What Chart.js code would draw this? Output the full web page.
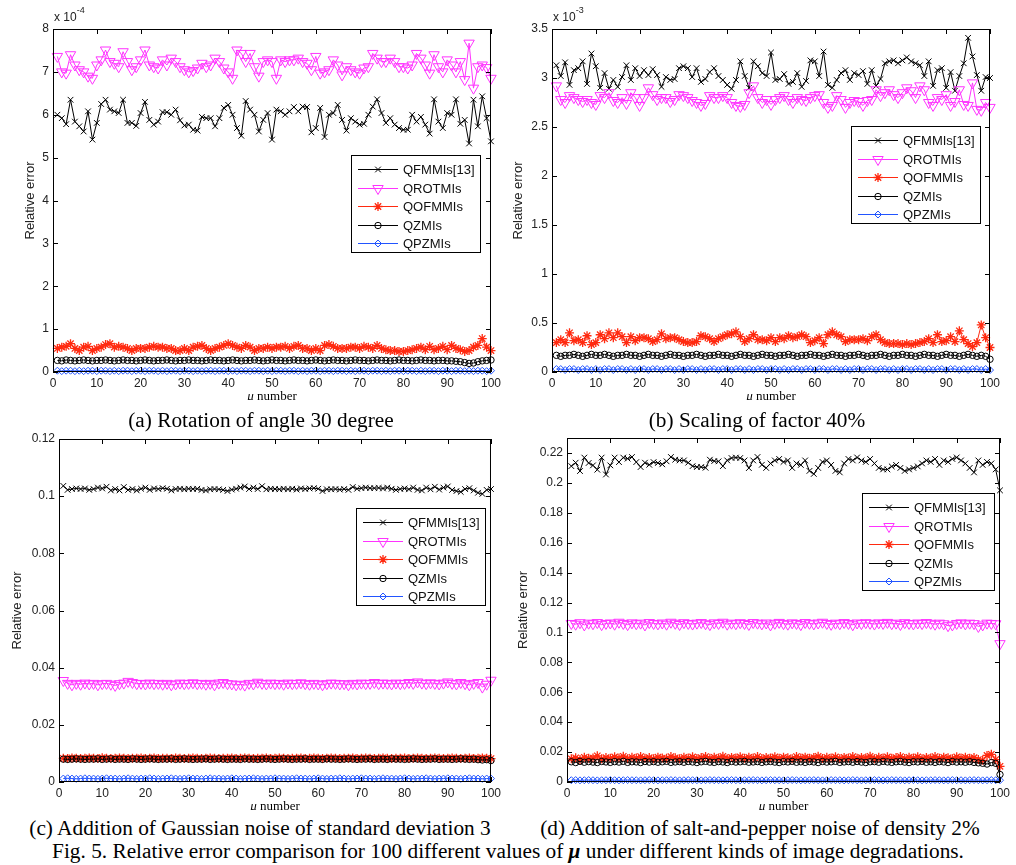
<!DOCTYPE html>
<html>
<head>
<meta charset="utf-8">
<script src="https://cdn.jsdelivr.net/npm/chart.js@4.4.0/dist/chart.umd.min.js"></script>
<style>
body{margin:0;background:#fff;width:1016px;height:865px;position:relative;overflow:hidden}
canvas{position:absolute}
.cap{position:absolute;font-family:"Liberation Serif","Times New Roman",serif;font-size:21.3px;line-height:22px;color:#000;white-space:nowrap;text-align:center}
</style>
</head>
<body>
<canvas id="cA" width="505" height="400" style="left:0;top:0"></canvas>
<canvas id="cB" width="511" height="400" style="left:505px;top:0"></canvas>
<canvas id="cC" width="505" height="385" style="left:0;top:425px"></canvas>
<canvas id="cD" width="511" height="385" style="left:505px;top:425px"></canvas>
<div class="cap" style="left:0;width:522px;top:409px">(a) Rotation of angle 30 degree</div>
<div class="cap" style="left:505px;width:504px;top:409px">(b) Scaling of factor 40%</div>
<div class="cap" style="left:0;width:520px;top:817px">(c) Addition of Gaussian noise of standard deviation 3</div>
<div class="cap" style="left:505px;width:510px;top:817px">(d) Addition of salt-and-pepper noise of density 2%</div>
<div class="cap" style="left:0;width:1016px;top:840px">Fig. 5. Relative error comparison for 100 different values of <b><i>μ</i></b> under different kinds of image degradations.</div>
<script>
//Data
const seriesNames = ['QFMMIs[13]', 'QROTMIs', 'QOFMMIs', 'QZMIs', 'QPZMIs'];
const muNumber = [];
for (let i = 1; i <= 100; i++) muNumber.push(i);

//(a) rotation, values in units of 1e-4
const qfmmiA = [6.00,5.92,5.78,6.35,5.84,5.73,5.61,6.08,5.42,5.81,
6.25,6.35,6.12,6.08,6.04,6.35,5.81,5.81,5.74,6.04,
6.30,5.88,5.77,5.84,6.06,6.06,6.00,6.12,5.87,5.75,
5.77,5.65,5.63,5.95,5.92,5.92,5.73,5.92,6.16,6.23,
6.00,5.69,5.51,6.32,6.12,6.00,5.61,5.88,6.04,5.42,
6.12,6.08,6.00,6.08,6.18,6.08,6.19,6.18,5.59,5.69,
6.16,5.48,6.00,6.04,6.23,5.88,5.63,5.92,5.84,5.77,
5.79,6.00,6.19,6.36,6.04,5.81,5.92,5.77,5.69,5.65,
5.65,6.00,5.84,5.95,5.77,5.56,6.36,5.84,5.69,6.04,
6.00,6.36,5.79,5.88,5.33,6.35,5.73,6.43,5.92,5.38];
const qrotA = [7.36,7.00,6.97,7.40,7.16,7.05,7.00,6.90,6.85,7.16,
7.28,7.51,7.24,7.20,7.12,7.47,7.24,7.05,7.12,7.28,
7.51,7.16,7.12,7.09,7.28,7.16,7.32,7.24,7.12,7.05,
7.00,7.03,7.09,7.20,7.12,7.16,7.32,7.24,7.09,7.00,
6.85,7.51,7.43,7.24,7.43,7.12,6.90,7.24,7.28,7.24,
6.85,7.28,7.24,7.28,7.28,7.32,7.24,7.20,7.05,7.36,
6.97,7.00,7.05,7.28,7.16,6.93,7.12,7.05,7.00,6.97,
7.09,7.12,7.43,7.32,7.24,7.24,7.32,7.24,7.12,7.12,
7.09,7.16,7.43,7.32,7.16,6.97,7.40,7.12,7.00,7.28,
7.16,7.00,7.24,6.82,7.67,6.62,7.12,7.16,7.10,6.85];
const qofA = [0.55,0.58,0.60,0.66,0.55,0.50,0.58,0.60,0.50,0.55,
0.58,0.64,0.66,0.58,0.60,0.58,0.55,0.50,0.55,0.55,
0.55,0.58,0.60,0.58,0.58,0.55,0.55,0.50,0.50,0.55,
0.50,0.58,0.60,0.62,0.55,0.50,0.55,0.58,0.62,0.66,
0.62,0.58,0.55,0.62,0.58,0.50,0.55,0.55,0.58,0.55,
0.58,0.58,0.60,0.55,0.60,0.62,0.55,0.55,0.50,0.55,
0.50,0.62,0.64,0.60,0.55,0.55,0.55,0.58,0.58,0.55,
0.60,0.58,0.55,0.62,0.55,0.52,0.50,0.50,0.48,0.48,
0.50,0.52,0.55,0.58,0.52,0.60,0.52,0.55,0.60,0.52,
0.62,0.55,0.52,0.48,0.50,0.58,0.62,0.78,0.58,0.50];
const qzA = [0.27,0.26,0.28,0.27,0.26,0.27,0.28,0.27,0.26,0.27,
0.27,0.28,0.27,0.26,0.27,0.28,0.27,0.27,0.26,0.27,
0.28,0.27,0.26,0.27,0.27,0.28,0.27,0.26,0.27,0.27,
0.28,0.27,0.27,0.26,0.27,0.28,0.27,0.27,0.26,0.27,
0.28,0.27,0.26,0.27,0.27,0.28,0.27,0.26,0.27,0.28,
0.27,0.27,0.26,0.27,0.28,0.27,0.27,0.26,0.27,0.28,
0.27,0.26,0.27,0.28,0.27,0.27,0.26,0.27,0.28,0.27,
0.27,0.26,0.27,0.28,0.27,0.27,0.26,0.27,0.28,0.27,
0.27,0.26,0.27,0.28,0.27,0.27,0.26,0.27,0.27,0.26,
0.26,0.25,0.24,0.22,0.20,0.21,0.24,0.26,0.27,0.28];
const qpzA = [0.03,0.02,0.03,0.03,0.02,0.03,0.02,0.03,0.03,0.02,
0.03,0.03,0.02,0.03,0.02,0.03,0.03,0.02,0.03,0.03,
0.02,0.03,0.03,0.02,0.03,0.02,0.03,0.03,0.02,0.03,
0.03,0.02,0.03,0.02,0.03,0.03,0.02,0.03,0.03,0.02,
0.03,0.02,0.03,0.03,0.02,0.03,0.03,0.02,0.03,0.02,
0.03,0.03,0.02,0.03,0.03,0.02,0.03,0.02,0.03,0.03,
0.02,0.03,0.03,0.02,0.03,0.03,0.02,0.03,0.02,0.03,
0.03,0.02,0.03,0.03,0.02,0.03,0.02,0.03,0.03,0.02,
0.03,0.03,0.02,0.03,0.02,0.03,0.03,0.02,0.03,0.03,
0.02,0.03,0.03,0.02,0.03,0.02,0.03,0.03,0.02,0.03];

//(b) scaling, values in units of 1e-3
const qfmmiB = [3.13,3.02,3.16,2.93,3.08,3.10,3.17,2.94,3.25,3.12,
2.90,3.05,2.89,2.98,2.91,3.01,3.13,2.98,3.10,3.02,
3.08,3.03,3.09,3.03,2.91,3.01,2.98,2.99,3.10,3.12,
3.10,3.01,3.10,2.96,2.99,3.06,3.10,3.02,2.98,2.93,
2.89,2.98,3.17,3.02,2.90,3.17,3.12,3.05,3.02,3.26,
2.98,2.99,3.04,2.94,2.96,3.05,2.91,2.97,3.18,3.17,
3.02,3.27,2.93,2.90,2.98,3.05,3.08,2.98,3.05,3.03,
3.07,2.94,3.08,2.92,2.99,3.15,3.17,3.18,3.15,3.18,
3.21,3.17,3.15,3.13,3.02,3.17,2.92,3.08,3.10,2.90,
3.06,2.87,3.02,3.15,3.41,3.22,3.03,2.87,3.01,3.00];
const qrotB = [2.92,2.78,2.75,2.82,2.80,2.78,2.76,2.78,2.75,2.73,
2.82,2.80,2.85,2.77,2.75,2.80,2.74,2.85,2.80,2.72,
2.80,2.90,2.83,2.78,2.80,2.80,2.76,2.78,2.83,2.82,
2.80,2.77,2.75,2.72,2.74,2.82,2.80,2.80,2.82,2.80,
2.75,2.72,2.71,2.73,2.85,2.92,2.80,2.75,2.78,2.73,
2.78,2.80,2.82,2.78,2.75,2.80,2.78,2.77,2.80,2.82,
2.83,2.75,2.70,2.72,2.82,2.78,2.70,2.75,2.77,2.76,
2.72,2.77,2.78,2.88,2.82,2.85,2.88,2.83,2.80,2.85,
2.90,2.87,2.80,2.92,2.88,2.75,2.72,2.80,2.78,2.83,
2.72,2.76,2.88,2.73,2.72,2.95,2.68,2.67,2.75,2.70];
const qofB = [0.30,0.33,0.30,0.40,0.32,0.33,0.30,0.37,0.28,0.30,
0.38,0.34,0.40,0.35,0.40,0.36,0.30,0.36,0.32,0.35,
0.35,0.34,0.31,0.33,0.39,0.34,0.35,0.35,0.33,0.31,
0.30,0.30,0.31,0.37,0.36,0.34,0.31,0.34,0.36,0.38,
0.39,0.41,0.36,0.31,0.34,0.38,0.33,0.33,0.32,0.35,
0.31,0.35,0.34,0.37,0.35,0.36,0.38,0.36,0.30,0.32,
0.35,0.29,0.38,0.41,0.38,0.36,0.31,0.33,0.33,0.33,
0.34,0.32,0.36,0.38,0.33,0.30,0.29,0.29,0.29,0.28,
0.29,0.28,0.29,0.30,0.31,0.34,0.30,0.38,0.31,0.32,
0.36,0.31,0.42,0.33,0.29,0.26,0.30,0.48,0.35,0.25];
const qzB = [0.17,0.16,0.17,0.17,0.18,0.17,0.16,0.17,0.18,0.17,
0.17,0.18,0.17,0.16,0.17,0.17,0.18,0.17,0.17,0.16,
0.17,0.18,0.17,0.17,0.16,0.17,0.18,0.17,0.17,0.16,
0.17,0.17,0.18,0.17,0.16,0.17,0.17,0.18,0.17,0.17,
0.16,0.17,0.18,0.17,0.17,0.16,0.17,0.18,0.17,0.17,
0.16,0.17,0.17,0.18,0.17,0.16,0.17,0.17,0.18,0.17,
0.17,0.16,0.17,0.18,0.17,0.17,0.16,0.17,0.17,0.18,
0.17,0.16,0.17,0.17,0.18,0.17,0.16,0.17,0.17,0.18,
0.17,0.17,0.16,0.17,0.18,0.17,0.17,0.16,0.17,0.18,
0.17,0.17,0.16,0.17,0.18,0.17,0.16,0.17,0.16,0.13];
const qpzB = [0.03,0.03,0.02,0.03,0.03,0.02,0.03,0.03,0.02,0.03,
0.02,0.03,0.03,0.02,0.03,0.03,0.02,0.03,0.02,0.03,
0.03,0.02,0.03,0.03,0.02,0.03,0.03,0.02,0.03,0.02,
0.03,0.03,0.02,0.03,0.02,0.03,0.03,0.02,0.03,0.03,
0.02,0.03,0.03,0.02,0.03,0.02,0.03,0.03,0.02,0.03,
0.03,0.02,0.03,0.02,0.03,0.03,0.02,0.03,0.03,0.02,
0.03,0.03,0.02,0.03,0.03,0.02,0.03,0.02,0.03,0.03,
0.02,0.03,0.03,0.02,0.03,0.03,0.02,0.03,0.02,0.03,
0.03,0.02,0.03,0.03,0.02,0.03,0.02,0.03,0.03,0.02,
0.03,0.03,0.02,0.03,0.02,0.03,0.03,0.02,0.03,0.02];

//(c) gaussian noise
const qfmmiC = [0.1036,0.1022,0.1025,0.1027,0.1025,0.1027,0.1022,0.1025,0.1030,0.1027,
0.1033,0.1020,0.1025,0.1020,0.1032,0.1022,0.1025,0.1020,0.1026,0.1030,
0.1022,0.1027,0.1025,0.1028,0.1026,0.1020,0.1025,0.1026,0.1024,0.1026,
0.1025,0.1026,0.1022,0.1020,0.1024,0.1025,0.1024,0.1022,0.1018,0.1023,
0.1026,0.1030,0.1034,0.1025,0.1030,0.1025,0.1035,0.1024,0.1026,0.1025,
0.1024,0.1026,0.1024,0.1026,0.1023,0.1027,0.1025,0.1027,0.1028,0.1026,
0.1018,0.1024,0.1024,0.1025,0.1023,0.1025,0.1022,0.1032,0.1026,0.1028,
0.1030,0.1028,0.1028,0.1029,0.1027,0.1030,0.1026,0.1022,0.1025,0.1027,
0.1024,0.1030,0.1022,0.1020,0.1030,0.1024,0.1033,0.1023,0.1030,0.1034,
0.1022,0.1018,0.1015,0.1025,0.1028,0.1020,0.1012,0.1008,0.1022,0.1025];
const qrotC = [0.0355,0.0345,0.0340,0.0345,0.0342,0.0346,0.0343,0.0345,0.0340,0.0344,
0.0345,0.0342,0.0338,0.0344,0.0346,0.0352,0.0348,0.0344,0.0345,0.0343,
0.0346,0.0344,0.0345,0.0342,0.0345,0.0340,0.0343,0.0346,0.0344,0.0345,
0.0347,0.0344,0.0345,0.0342,0.0345,0.0340,0.0346,0.0348,0.0344,0.0343,
0.0340,0.0342,0.0339,0.0345,0.0343,0.0349,0.0345,0.0343,0.0346,0.0344,
0.0345,0.0342,0.0346,0.0344,0.0345,0.0347,0.0344,0.0342,0.0345,0.0343,
0.0340,0.0344,0.0346,0.0345,0.0343,0.0344,0.0340,0.0345,0.0343,0.0346,
0.0344,0.0345,0.0348,0.0344,0.0346,0.0345,0.0343,0.0346,0.0344,0.0345,
0.0348,0.0345,0.0350,0.0346,0.0344,0.0347,0.0345,0.0343,0.0346,0.0350,
0.0345,0.0343,0.0348,0.0344,0.0340,0.0345,0.0348,0.0332,0.0342,0.0356];
const qofC = [0.0083,0.0082,0.0084,0.0083,0.0082,0.0083,0.0084,0.0083,0.0082,0.0085,
0.0083,0.0082,0.0083,0.0084,0.0083,0.0082,0.0083,0.0083,0.0084,0.0082,
0.0083,0.0084,0.0082,0.0083,0.0083,0.0082,0.0084,0.0083,0.0082,0.0083,
0.0084,0.0083,0.0082,0.0083,0.0084,0.0083,0.0082,0.0083,0.0083,0.0084,
0.0082,0.0083,0.0084,0.0083,0.0082,0.0083,0.0083,0.0084,0.0082,0.0083,
0.0084,0.0083,0.0082,0.0083,0.0083,0.0084,0.0082,0.0083,0.0084,0.0083,
0.0082,0.0083,0.0084,0.0083,0.0082,0.0083,0.0083,0.0084,0.0082,0.0083,
0.0084,0.0083,0.0082,0.0083,0.0084,0.0083,0.0082,0.0083,0.0083,0.0084,
0.0082,0.0083,0.0084,0.0083,0.0082,0.0083,0.0084,0.0083,0.0082,0.0083,
0.0084,0.0083,0.0082,0.0083,0.0084,0.0082,0.0083,0.0084,0.0083,0.0082];
const qzC = [0.0080,0.0079,0.0080,0.0081,0.0080,0.0079,0.0080,0.0080,0.0081,0.0079,
0.0080,0.0081,0.0079,0.0080,0.0080,0.0079,0.0081,0.0080,0.0079,0.0080,
0.0081,0.0080,0.0079,0.0080,0.0080,0.0081,0.0079,0.0080,0.0081,0.0080,
0.0079,0.0080,0.0080,0.0081,0.0079,0.0080,0.0081,0.0080,0.0079,0.0080,
0.0080,0.0079,0.0081,0.0080,0.0080,0.0079,0.0080,0.0081,0.0080,0.0079,
0.0080,0.0081,0.0080,0.0079,0.0080,0.0080,0.0081,0.0079,0.0080,0.0080,
0.0079,0.0081,0.0080,0.0080,0.0079,0.0080,0.0081,0.0080,0.0079,0.0080,
0.0080,0.0081,0.0079,0.0080,0.0080,0.0079,0.0081,0.0080,0.0080,0.0079,
0.0080,0.0081,0.0080,0.0079,0.0080,0.0080,0.0081,0.0079,0.0080,0.0080,
0.0079,0.0080,0.0081,0.0080,0.0079,0.0080,0.0078,0.0077,0.0078,0.0075];
const qpzC = [0.0012,0.0013,0.0012,0.0011,0.0012,0.0013,0.0012,0.0012,0.0011,0.0012,
0.0013,0.0012,0.0012,0.0011,0.0012,0.0013,0.0012,0.0011,0.0012,0.0012,
0.0013,0.0012,0.0011,0.0012,0.0012,0.0013,0.0012,0.0011,0.0012,0.0013,
0.0012,0.0012,0.0011,0.0012,0.0013,0.0012,0.0012,0.0011,0.0012,0.0013,
0.0012,0.0011,0.0012,0.0012,0.0013,0.0012,0.0011,0.0012,0.0012,0.0013,
0.0012,0.0012,0.0011,0.0012,0.0013,0.0012,0.0012,0.0011,0.0012,0.0013,
0.0012,0.0011,0.0012,0.0012,0.0013,0.0012,0.0011,0.0012,0.0012,0.0013,
0.0012,0.0012,0.0011,0.0012,0.0013,0.0012,0.0012,0.0011,0.0012,0.0013,
0.0012,0.0011,0.0012,0.0012,0.0013,0.0012,0.0011,0.0012,0.0012,0.0013,
0.0012,0.0012,0.0011,0.0012,0.0013,0.0012,0.0012,0.0011,0.0012,0.0012];

//(d) salt-and-pepper noise
const qfmmiD = [0.2112,0.2135,0.2079,0.2169,0.2133,0.2117,0.2088,0.2169,0.2056,0.2117,
0.2169,0.2139,0.2169,0.2162,0.2173,0.2139,0.2106,0.2135,0.2121,0.2139,
0.2133,0.2124,0.2144,0.2173,0.2155,0.2150,0.2150,0.2135,0.2112,0.2106,
0.2106,0.2101,0.2155,0.2146,0.2144,0.2112,0.2150,0.2166,0.2169,0.2166,
0.2150,0.2099,0.2150,0.2173,0.2121,0.2100,0.2130,0.2150,0.2160,0.2140,
0.2150,0.2100,0.2130,0.2120,0.2150,0.2080,0.2060,0.2100,0.2140,0.2150,
0.2120,0.2080,0.2070,0.2130,0.2160,0.2150,0.2170,0.2150,0.2140,0.2160,
0.2130,0.2100,0.2090,0.2090,0.2110,0.2120,0.2100,0.2080,0.2090,0.2100,
0.2110,0.2130,0.2150,0.2140,0.2160,0.2120,0.2150,0.2140,0.2160,0.2170,
0.2150,0.2130,0.2100,0.2070,0.2150,0.2120,0.2140,0.2130,0.2090,0.1950];
const qrotD = [0.1060,0.1055,0.1065,0.1050,0.1062,0.1058,0.1066,0.1052,0.1060,0.1063,
0.1055,0.1068,0.1060,0.1052,0.1064,0.1058,0.1062,0.1050,0.1066,0.1060,
0.1057,0.1063,0.1055,0.1068,0.1061,0.1053,0.1065,0.1060,0.1056,0.1062,
0.1066,0.1058,0.1052,0.1064,0.1060,0.1068,0.1055,0.1062,0.1058,0.1065,
0.1060,0.1053,0.1066,0.1062,0.1057,0.1063,0.1050,0.1061,0.1067,0.1059,
0.1055,0.1064,0.1060,0.1052,0.1066,0.1061,0.1057,0.1063,0.1068,0.1060,
0.1054,0.1062,0.1058,0.1066,0.1060,0.1051,0.1063,0.1059,0.1065,0.1061,
0.1056,0.1064,0.1060,0.1067,0.1058,0.1062,0.1053,0.1065,0.1060,0.1057,
0.1063,0.1059,0.1066,0.1061,0.1055,0.1062,0.1058,0.1045,0.1050,0.1060,
0.1064,0.1057,0.1062,0.1059,0.1040,0.1050,0.1062,0.1060,0.1058,0.0925];
const qofD = [0.0155,0.0162,0.0150,0.0165,0.0158,0.0160,0.0175,0.0155,0.0163,0.0158,
0.0168,0.0160,0.0172,0.0156,0.0165,0.0160,0.0170,0.0158,0.0163,0.0155,
0.0166,0.0160,0.0158,0.0170,0.0162,0.0156,0.0165,0.0160,0.0168,0.0157,
0.0163,0.0170,0.0158,0.0165,0.0160,0.0172,0.0156,0.0164,0.0160,0.0168,
0.0158,0.0165,0.0160,0.0170,0.0157,0.0163,0.0160,0.0168,0.0158,0.0165,
0.0162,0.0156,0.0170,0.0160,0.0166,0.0158,0.0163,0.0172,0.0157,0.0165,
0.0160,0.0168,0.0155,0.0164,0.0160,0.0170,0.0158,0.0163,0.0160,0.0172,
0.0156,0.0165,0.0160,0.0168,0.0158,0.0163,0.0170,0.0157,0.0165,0.0160,
0.0168,0.0156,0.0163,0.0160,0.0170,0.0158,0.0165,0.0162,0.0156,0.0168,
0.0160,0.0165,0.0158,0.0163,0.0150,0.0145,0.0178,0.0185,0.0150,0.0105];
const qzD = [0.0135,0.0130,0.0138,0.0132,0.0136,0.0133,0.0130,0.0137,0.0134,0.0131,
0.0136,0.0133,0.0138,0.0131,0.0135,0.0134,0.0130,0.0137,0.0133,0.0136,
0.0132,0.0135,0.0138,0.0131,0.0134,0.0136,0.0132,0.0137,0.0134,0.0130,
0.0135,0.0138,0.0133,0.0131,0.0136,0.0134,0.0130,0.0137,0.0133,0.0135,
0.0138,0.0132,0.0134,0.0136,0.0131,0.0135,0.0137,0.0133,0.0130,0.0136,
0.0134,0.0138,0.0132,0.0135,0.0131,0.0136,0.0134,0.0130,0.0137,0.0133,
0.0135,0.0138,0.0131,0.0134,0.0136,0.0132,0.0137,0.0133,0.0130,0.0135,
0.0136,0.0132,0.0138,0.0134,0.0131,0.0135,0.0137,0.0133,0.0130,0.0136,
0.0134,0.0138,0.0132,0.0135,0.0131,0.0136,0.0134,0.0130,0.0137,0.0133,
0.0135,0.0132,0.0136,0.0131,0.0128,0.0125,0.0120,0.0130,0.0125,0.0050];
const qpzD = [0.0012,0.0013,0.0011,0.0012,0.0013,0.0012,0.0011,0.0012,0.0012,0.0013,
0.0012,0.0011,0.0012,0.0013,0.0012,0.0012,0.0011,0.0012,0.0013,0.0012,
0.0011,0.0012,0.0012,0.0013,0.0012,0.0011,0.0012,0.0013,0.0012,0.0012,
0.0011,0.0012,0.0013,0.0012,0.0012,0.0011,0.0012,0.0013,0.0012,0.0011,
0.0012,0.0012,0.0013,0.0012,0.0011,0.0012,0.0013,0.0012,0.0012,0.0011,
0.0012,0.0013,0.0012,0.0011,0.0012,0.0012,0.0013,0.0012,0.0011,0.0012,
0.0013,0.0012,0.0012,0.0011,0.0012,0.0013,0.0012,0.0011,0.0012,0.0012,
0.0013,0.0012,0.0011,0.0012,0.0013,0.0012,0.0012,0.0011,0.0012,0.0013,
0.0012,0.0011,0.0012,0.0012,0.0013,0.0012,0.0011,0.0012,0.0013,0.0012,
0.0012,0.0011,0.0012,0.0013,0.0012,0.0011,0.0012,0.0013,0.0012,0.0012];

//Styles (MATLAB-ish markers)
const seriesStyles = [
    {color: '#000000', pointStyle: 'crossRot', radius: 4, rotation: 0, width: 1},
    {color: '#ff33ff', pointStyle: 'triangle', radius: 6, rotation: 180, width: 1},
    {color: '#ff2a10', pointStyle: 'star', radius: 4.5, rotation: 0, width: 1.3},
    {color: '#000000', pointStyle: 'circle', radius: 3.2, rotation: 0, width: 1},
    {color: '#2255ff', pointStyle: 'rectRot', radius: 3.5, rotation: 0, width: 1}
];

//Panels: page geometry of each axes box
const panels = [
    {id: 'cA', left: 0, top: 0, area: {l: 53, t: 29, r: 491, b: 372}, yMax: 8, yStep: 1, exp: '-4',
     series: [qfmmiA, qrotA, qofA, qzA, qpzA], legend: {x: 351, y: 155, w: 130, h: 98}, yTitleX: 30},
    {id: 'cB', left: 505, top: 0, area: {l: 552, t: 29, r: 990, b: 372}, yMax: 3.5, yStep: 0.5, exp: '-3',
     series: [qfmmiB, qrotB, qofB, qzB, qpzB], legend: {x: 851, y: 126, w: 130, h: 98}, yTitleX: 518},
    {id: 'cC', left: 0, top: 425, area: {l: 59, t: 439, r: 496, b: 782}, yMax: 0.12, yStep: 0.02, exp: null,
     series: [qfmmiC, qrotC, qofC, qzC, qpzC], legend: {x: 356, y: 508, w: 130, h: 98}, yTitleX: 17},
    {id: 'cD', left: 505, top: 425, area: {l: 567, t: 438, r: 1000, b: 782}, yMax: 0.23, yStep: 0.02, exp: null,
     series: [qfmmiD, qrotD, qofD, qzD, qpzD], legend: {x: 862, y: 493, w: 133, h: 98}, yTitleX: 523}
];

Chart.defaults.font.family = '"Liberation Sans", Arial, sans-serif';
Chart.defaults.font.size = 12;
Chart.defaults.color = '#222';

function line(ctx, x1, y1, x2, y2) {
    ctx.beginPath();
    ctx.moveTo(x1, y1);
    ctx.lineTo(x2, y2);
    ctx.stroke();
}

//axes box, inward ticks, labels and legend
const matlabDecor = {
    id: 'matlabDecor',
    afterDraw(chart) {
        const p = chart.options.plugins.matlabDecor;
        const ctx = chart.ctx;
        const a = chart.chartArea;
        const xs = chart.scales.x, ys = chart.scales.y;
        ctx.save();
        ctx.strokeStyle = '#000';
        ctx.lineWidth = 1;
        ctx.strokeRect(a.left + 0.5, a.top + 0.5, a.right - a.left - 1, a.bottom - a.top - 1);
        xs.ticks.forEach(t => {
            const px = Math.round(xs.getPixelForValue(t.value)) + 0.5;
            line(ctx, px, a.bottom, px, a.bottom - 5);
            line(ctx, px, a.top, px, a.top + 5);
        });
        ys.ticks.forEach(t => {
            const py = Math.round(ys.getPixelForValue(t.value)) + 0.5;
            line(ctx, a.left, py, a.left + 5, py);
            line(ctx, a.right, py, a.right - 5, py);
        });

        //exponent
        ctx.fillStyle = '#222';
        ctx.textBaseline = 'middle';
        if (p.exp) {
            ctx.font = '12px "Liberation Sans", Arial';
            ctx.textAlign = 'left';
            ctx.fillText('x 10', a.left + 1, a.top - 11);
            const w = ctx.measureText('x 10').width;
            ctx.font = '9px "Liberation Sans", Arial';
            ctx.fillText(p.exp, a.left + 1 + w, a.top - 18);
        }

        //y title
        ctx.save();
        ctx.font = '13px "Liberation Sans", Arial';
        ctx.translate(p.yTitleX, (a.top + a.bottom) / 2);
        ctx.rotate(-Math.PI / 2);
        ctx.textAlign = 'center';
        ctx.fillText('Relative error', 0, 0);
        ctx.restore();

        //x title
        ctx.fillStyle = '#000';
        ctx.font = 'italic 13px "Liberation Serif", serif';
        const wMu = ctx.measureText('μ').width;
        ctx.font = '13px "Liberation Serif", serif';
        const wNum = ctx.measureText(' number').width;
        let sx = (a.left + a.right) / 2 - (wMu + wNum) / 2;
        const ty = a.bottom + 25;
        ctx.textAlign = 'left';
        ctx.font = 'italic 13px "Liberation Serif", serif';
        ctx.fillText('μ', sx, ty);
        ctx.font = '13px "Liberation Serif", serif';
        ctx.fillText(' number', sx + wMu, ty);

        //legend
        const L = p.legend;
        ctx.fillStyle = '#fff';
        ctx.fillRect(L.x, L.y, L.w, L.h);
        ctx.strokeStyle = '#000';
        ctx.strokeRect(L.x + 0.5, L.y + 0.5, L.w - 1, L.h - 1);
        ctx.font = '13px "Liberation Sans", Arial';
        chart.data.datasets.forEach((ds, k) => {
            const ry = Math.round(L.y + 14 + k * 18.5) + 0.5;
            ctx.strokeStyle = ds.borderColor;
            ctx.lineWidth = 1;
            line(ctx, L.x + 7, ry, L.x + 47, ry);
            ctx.fillStyle = 'rgba(0,0,0,0)';
            ctx.lineWidth = ds.pointBorderWidth;
            Chart.helpers.drawPoint(ctx, {
                pointStyle: ds.pointStyle, rotation: ds.pointRotation,
                radius: ds.pointRadius, borderWidth: ds.pointBorderWidth
            }, L.x + 27, ry);
            ctx.fillStyle = '#111';
            ctx.fillText(ds.label, L.x + 52, ry + 1);
        });
        ctx.restore();
    }
};

function createPanel(pn) {
    const canvas = document.getElementById(pn.id);
    const W = canvas.width, H = canvas.height;
    const datasets = pn.series.map((arr, k) => {
        const st = seriesStyles[k];
        return {
            label: seriesNames[k],
            data: arr.map((v, i) => ({x: muNumber[i], y: v})),
            borderColor: st.color,
            backgroundColor: 'rgba(0,0,0,0)',
            borderWidth: 1,
            pointStyle: st.pointStyle,
            pointRadius: st.radius,
            pointRotation: st.rotation,
            pointBorderWidth: st.width,
            pointBorderColor: st.color,
            pointBackgroundColor: 'rgba(0,0,0,0)',
            tension: 0,
            clip: false,
            order: 5 - k
        };
    });
    const step = pn.yStep;
    return new Chart(canvas.getContext('2d'), {
        type: 'line',
        data: {datasets: datasets},
        options: {
            responsive: false,
            animation: false,
            events: [],
            layout: {
                autoPadding: false,
                padding: {left: 0, top: pn.area.t - pn.top, right: pn.left + W - pn.area.r, bottom: 0}
            },
            scales: {
                x: {
                    type: 'linear', min: 0, max: 100,
                    grid: {display: false, drawTicks: false},
                    border: {display: false},
                    ticks: {stepSize: 10, padding: 4, maxRotation: 0, autoSkip: false},
                    afterFit: s => { s.height = pn.top + H - pn.area.b; }
                },
                y: {
                    type: 'linear', min: 0, max: pn.yMax,
                    grid: {display: false, drawTicks: false},
                    border: {display: false},
                    ticks: {
                        stepSize: step, padding: 4, autoSkip: false,
                        callback: v => String(+v.toFixed(4))
                    },
                    afterBuildTicks: s => {
                        s.ticks = s.ticks.filter(t => Math.abs(t.value / step - Math.round(t.value / step)) < 1e-6);
                    },
                    afterFit: s => { s.width = pn.area.l - pn.left; }
                }
            },
            plugins: {
                legend: {display: false},
                tooltip: {enabled: false},
                matlabDecor: {
                    exp: pn.exp,
                    yTitleX: pn.yTitleX - pn.left,
                    legend: {x: pn.legend.x - pn.left, y: pn.legend.y - pn.top, w: pn.legend.w, h: pn.legend.h}
                }
            }
        },
        plugins: [matlabDecor]
    });
}

panels.forEach(createPanel);
</script>
</body>
</html>
